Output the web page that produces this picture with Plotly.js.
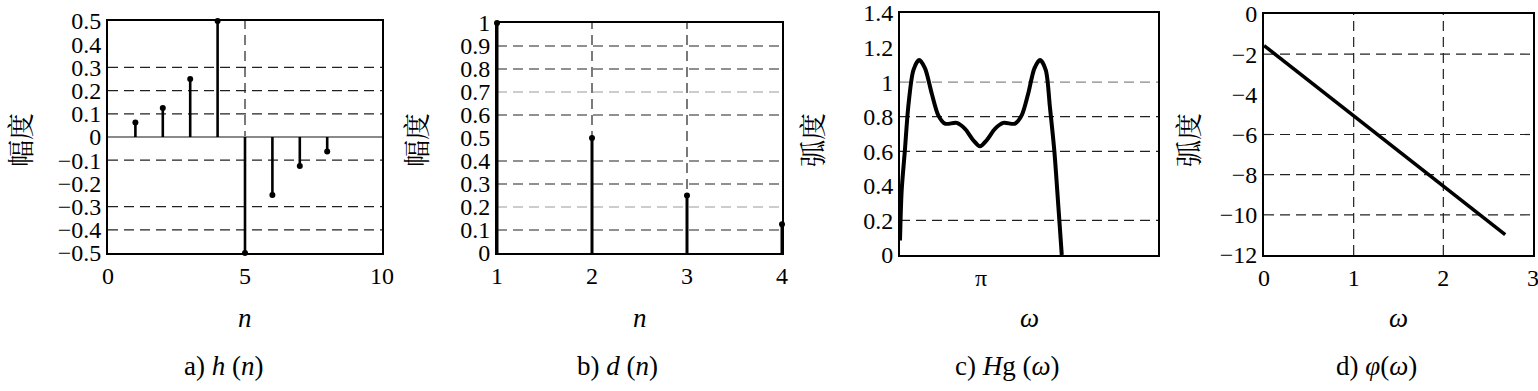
<!DOCTYPE html>
<html>
<head>
<meta charset="utf-8">
<script src="https://cdn.plot.ly/plotly-3.0.1.min.js"></script>
<style>html,body{margin:0;padding:0;background:#fff;}#chart{width:1538px;height:391px;}</style>
</head>
<body>
<div id="chart"></div>
<script>
// ---- data ----
const nA = [1, 2, 3, 4, 5, 6, 7, 8];
const hA = [0.0625, 0.125, 0.25, 0.5, -0.5, -0.25, -0.125, -0.0625];

const nB = [1, 2, 3, 4];
const dB = [1, 0.5, 0.25, 0.125];

const wC = [0, 0.065, 0.19, 0.32, 0.52, 0.74, 0.97, 1.23, 1.48, 1.74, 2.20, 2.52, 2.84, 3.10,
            3.36, 3.68, 4.00, 4.46, 4.72, 4.97, 5.21, 5.43, 5.65, 5.81, 5.98, 6.14, 6.27];
const hgC = [0.084, 0.374, 0.606, 0.857, 1.07, 1.128, 1.08, 0.934, 0.809, 0.76, 0.764, 0.73, 0.664, 0.629,
             0.664, 0.73, 0.764, 0.76, 0.809, 0.934, 1.08, 1.128, 1.07, 0.857, 0.606, 0.277, 0.0];

const wD = [0, 2.69];
const phiD = [-1.57, -10.99];

// tick values
const tickA_y = [-0.5, -0.4, -0.3, -0.2, -0.1, 0, 0.1, 0.2, 0.3, 0.4, 0.5];
const tickA_x = [0, 5, 10];
const tickB_y = [0, 0.1, 0.2, 0.3, 0.4, 0.5, 0.6, 0.7, 0.8, 0.9, 1];
const tickB_x = [1, 2, 3, 4];
const tickC_y = [0, 0.2, 0.4, 0.6, 0.8, 1, 1.2, 1.4];
const tickC_x = [Math.PI];
const tickC_xtext = ['π'];
const tickD_y = [-12, -10, -8, -6, -4, -2, 0];
const tickD_x = [0, 1, 2, 3];

// visible grid lines
const gridA_h = [0.3, 0.2, 0.1, -0.1, -0.3, -0.4];
const gridA_v = [5];
const gridB_h = [0.9, 0.8, 0.6, 0.4, 0.3, 0.1];
const gridB_hLight = [0.7, 0.2];
const gridB_v = [2, 3];
const gridC_h = [0.8, 0.6, 0.2];
const gridC_hLight = [1];
const gridD_h = [-2, -6, -8, -10];
const gridD_v = [1, 2];

const captions = ['a) <i>h</i> (<i>n</i>)', 'b) <i>d</i> (<i>n</i>)', 'c) <i>H</i>g (<i>ω</i>)', 'd) <i>φ</i>(<i>ω</i>)'];
const xTitles = ['<i>n</i>', '<i>n</i>', '<i>ω</i>', '<i>ω</i>'];
const yTitles = ['幅度', '幅度', '弧度', '弧度'];

// ---- helpers ----
function stems(xs, ys) {
  const sx = [], sy = [];
  xs.forEach((x, i) => { sx.push(x, x, null); sy.push(0, ys[i], null); });
  return {sx, sy};
}
const W = 1538, H = 391;
const SERIF = 'Liberation Serif';
const CJK = 'Noto Serif CJK SC';
const TICK = 24;

const sa = stems(nA, hA), sb = stems(nB, dB);
const traces = [
  {x: sa.sx, y: sa.sy, xaxis: 'x', yaxis: 'y', mode: 'lines', line: {color: '#000', width: 2.6}, hoverinfo: 'skip', cliponaxis: false},
  {x: nA, y: hA, xaxis: 'x', yaxis: 'y', mode: 'markers', marker: {color: '#000', size: 6}, cliponaxis: false},
  {x: sb.sx, y: sb.sy, xaxis: 'x2', yaxis: 'y2', mode: 'lines', line: {color: '#000', width: 3}, hoverinfo: 'skip', cliponaxis: false},
  {x: nB, y: dB, xaxis: 'x2', yaxis: 'y2', mode: 'markers', marker: {color: '#000', size: 6}, cliponaxis: false},
  {x: wC, y: hgC, xaxis: 'x3', yaxis: 'y3', mode: 'lines', line: {color: '#000', width: 4, shape: 'spline', smoothing: 0.8}},
  {x: wD, y: phiD, xaxis: 'x4', yaxis: 'y4', mode: 'lines', line: {color: '#000', width: 3.5}}
];

function px(v) { return v / W; }
function py(v) { return 1 - v / H; }

const boxes = [
  {x: [108, 382], y: [21, 253]},
  {x: [497, 782], y: [23, 253]},
  {x: [900, 1158], y: [13, 255]},
  {x: [1264, 1533], y: [14, 255]}
];

function axX(i, range, tv, tt) {
  const b = boxes[i];
  const a = {domain: [px(b.x[0]), px(b.x[1])], range: range, anchor: i === 0 ? 'y' : 'y' + (i + 1),
    tickmode: 'array', tickvals: tv, showgrid: false, zeroline: false, showline: true, mirror: true,
    linecolor: '#000', linewidth: 2, ticks: '', ticklabeloverflow: 'allow',
    tickfont: {family: SERIF, size: TICK, color: '#000'}, fixedrange: true};
  if (tt) a.ticktext = tt;
  return a;
}
function axY(i, range, tv, zl) {
  const b = boxes[i];
  return {domain: [py(b.y[1]), py(b.y[0])], range: range, anchor: i === 0 ? 'x' : 'x' + (i + 1),
    tickmode: 'array', tickvals: tv, showgrid: false, zeroline: !!zl, zerolinecolor: '#8a8a8a', zerolinewidth: 1.5,
    showline: true, mirror: true, linecolor: '#000', linewidth: 2, ticks: '', ticklabeloverflow: 'allow',
    tickfont: {family: SERIF, size: TICK, color: '#000'}, fixedrange: true};
}

const shapes = [];
function hLines(vals, xref, yref, color) {
  vals.forEach(v => shapes.push({type: 'line', xref: xref + ' domain', yref: yref, x0: 0, x1: 1, y0: v, y1: v,
    line: {color: color, width: 1.2, dash: '10px,6px'}, layer: 'below'}));
}
function vLines(vals, xref, yref, color) {
  vals.forEach(v => shapes.push({type: 'line', xref: xref, yref: yref + ' domain', x0: v, x1: v, y0: 0, y1: 1,
    line: {color: color, width: 1.2, dash: '10px,6px'}, layer: 'below'}));
}
hLines(gridA_h, 'x', 'y', '#222'); vLines(gridA_v, 'x', 'y', '#222');
hLines(gridB_h, 'x2', 'y2', '#222'); hLines(gridB_hLight, 'x2', 'y2', '#999'); vLines(gridB_v, 'x2', 'y2', '#222');
hLines(gridC_h, 'x3', 'y3', '#222'); hLines(gridC_hLight, 'x3', 'y3', '#888');
hLines(gridD_h, 'x4', 'y4', '#222'); vLines(gridD_v, 'x4', 'y4', '#222');

const annotations = [];
const yTitleX = [20, 416, 812, 1188];
boxes.forEach((b, i) => {
  const cx = (b.x[0] + b.x[1]) / 2;
  annotations.push({xref: 'paper', yref: 'paper', x: px(cx), y: py(318), text: xTitles[i], showarrow: false,
    xanchor: 'center', yanchor: 'middle', font: {family: SERIF, size: 27, color: '#000'}});
  annotations.push({xref: 'paper', yref: 'paper', x: px(cx - 22), y: py(366), text: captions[i], showarrow: false,
    xanchor: 'center', yanchor: 'middle', font: {family: SERIF, size: 27, color: '#000'}});
  annotations.push({xref: 'paper', yref: 'paper', x: px(yTitleX[i]), y: py(140), text: yTitles[i], showarrow: false,
    textangle: -90, xanchor: 'center', yanchor: 'middle', font: {family: CJK, size: 27, color: '#000'}});
});

const layout = {
  width: W, height: H, margin: {l: 0, r: 0, t: 0, b: 0}, paper_bgcolor: '#fff', plot_bgcolor: '#fff',
  showlegend: false, font: {family: SERIF},
  xaxis: axX(0, [0, 10], tickA_x), yaxis: axY(0, [-0.5, 0.5], tickA_y, true),
  xaxis2: axX(1, [1, 4], tickB_x), yaxis2: axY(1, [0, 1], tickB_y),
  xaxis3: axX(2, [0, 10], tickC_x, tickC_xtext), yaxis3: axY(2, [0, 1.4000001], tickC_y),
  xaxis4: axX(3, [0, 3], tickD_x), yaxis4: axY(3, [-12, 0], tickD_y),
  shapes: shapes, annotations: annotations
};

Plotly.newPlot('chart', traces, layout, {displayModeBar: false, staticPlot: true});
</script>
</body>
</html>
